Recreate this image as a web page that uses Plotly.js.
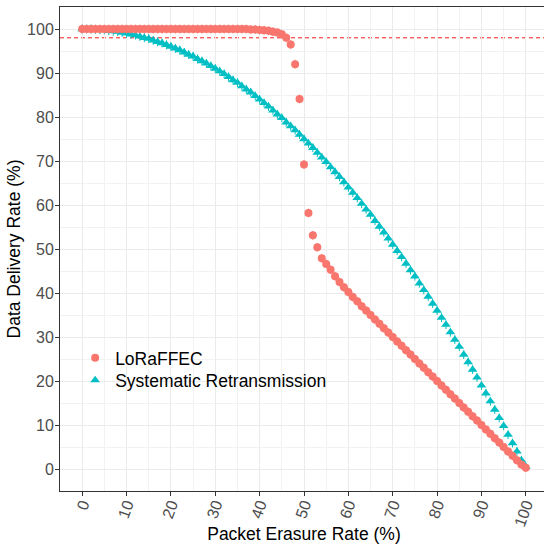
<!DOCTYPE html>
<html>
<head>
<meta charset="utf-8">
<script src="https://cdn.plot.ly/plotly-3.0.1.min.js"></script>
<style>
  html, body { margin: 0; padding: 0; overflow: hidden; background: #ffffff; }
  #chart { width: 548px; height: 544px; }
</style>
</head>
<body>
<div id="chart"></div>
<script>
// Packet erasure rate (%) on the x axis
const erasureRate = [
  0,1,2,3,4,5,6,7,8,9,10,11,12,13,14,15,16,17,18,19,20,
  21,22,23,24,25,26,27,28,29,30,31,32,33,34,35,36,37,38,39,40,
  41,42,43,44,45,46,47,48,49,50,51,52,53,54,55,56,57,58,59,60,
  61,62,63,64,65,66,67,68,69,70,71,72,73,74,75,76,77,78,79,80,
  81,82,83,84,85,86,87,88,89,90,91,92,93,94,95,96,97,98,99,100
];

// Data delivery rate (%) with LoRaFFEC
const deliveryLoraffec = [
  100,100,100,100,100,100,100,100,100,100,100,
  100,100,100,100,100,100,100,100,100,100,
  100,100,100,100,100,100,100,100,100,100,
  100,100,100,100,100,100,100,99.9,99.9,99.8,
  99.7,99.6,99.4,99.2,98.8,98.0,96.5,92.0,84.1,69.2,
  58.2,53.1,50.4,47.9,46.6,45.3,43.8,42.5,41.3,40.2,
  39.1,38.1,37.0,36.0,35.0,34.0,33.0,32.0,31.0,30.0,
  29.0,28.0,27.0,26.0,25.0,24.0,23.0,22.0,21.0,20.0,
  19.0,18.0,17.0,16.0,15.0,14.0,13.0,12.0,11.0,10.0,
  9.0,8.0,7.0,6.0,5.0,4.0,3.0,2.0,1.0,0.3
];

// Data delivery rate (%) with systematic retransmission
const deliverySystematic = [
  100.0,100.0,100.0,99.9,99.8,99.8,99.6,99.5,99.4,99.2,99.0,
  98.8,98.6,98.3,98.0,97.8,97.4,97.1,96.8,96.4,96.0,
  95.6,95.2,94.7,94.2,93.8,93.2,92.7,92.2,91.6,91.0,
  90.4,89.8,89.1,88.4,87.8,87.0,86.3,85.6,84.8,84.0,
  83.2,82.4,81.5,80.6,79.8,78.8,77.9,77.0,76.0,75.0,
  74.0,73.0,71.9,70.8,69.8,68.6,67.5,66.4,65.2,64.0,
  62.8,61.6,60.3,59.0,57.8,56.4,55.1,53.8,52.4,51.0,
  49.6,48.2,46.7,45.2,43.8,42.2,40.7,39.2,37.6,36.0,
  34.4,32.8,31.1,29.4,27.8,26.0,24.3,22.6,20.8,19.0,
  17.2,15.4,13.5,11.6,9.8,7.8,5.9,4.0,2.0,0.5
];

// Half-width of the spread drawn around each point (percentage points)
const spreadLoraffec = 1.0;
const spreadSystematic = 1.0;

// Target delivery level drawn as a dashed reference line
const targetLevel = 98;

const seriesNames = ['LoRaFFEC', 'Systematic Retransmission'];
const xTitle = 'Packet Erasure Rate (%)';
const yTitle = 'Data Delivery Rate (%)';

const FONT = 'Liberation Sans, Arial, Helvetica, sans-serif';
const RED = '#F8766D';
const TEAL = '#00BFC4';

const traces = [
  {
    type: 'scatter',
    mode: 'markers',
    name: seriesNames[1],
    legend: 'legend2',
    x: erasureRate,
    y: deliverySystematic,
    marker: { symbol: 'triangle-up', size: 8.5, color: TEAL, line: { width: 0 } },
    error_y: { type: 'constant', value: spreadSystematic, color: TEAL, thickness: 1, width: 0 }
  },
  {
    type: 'scatter',
    mode: 'markers',
    name: seriesNames[0],
    legend: 'legend',
    x: erasureRate,
    y: deliveryLoraffec,
    marker: { symbol: 'circle', size: 8, color: RED, line: { width: 0 } },
    error_y: { type: 'constant', value: spreadLoraffec, color: RED, thickness: 1, width: 0 }
  }
];

const axisCommon = {
  range: [-5, 105],
  dtick: 10,
  tick0: 0,
  showgrid: true,
  gridcolor: '#EBEBEB',
  gridwidth: 1,
  zeroline: false,
  showline: true,
  mirror: true,
  linecolor: '#333333',
  linewidth: 1,
  ticks: 'outside',
  ticklen: 4,
  tickwidth: 1,
  tickcolor: '#333333',
  tickfont: { family: FONT, size: 16, color: '#4D4D4D' },
  minor: { dtick: 5, showgrid: true, gridcolor: '#F2F2F2', gridwidth: 1, ticks: '' }
};

const legendCommon = {
  xanchor: 'left',
  yanchor: 'middle',
  bgcolor: 'rgba(255,255,255,0)',
  font: { family: FONT, size: 17.5, color: '#000000' }
};

const layout = {
  width: 548,
  height: 544,
  margin: { l: 60, r: 0, t: 6.7, b: 53.3 },
  paper_bgcolor: '#ffffff',
  plot_bgcolor: '#ffffff',
  font: { family: FONT, color: '#000000' },
  showlegend: true,
  legend: Object.assign({}, legendCommon, { x: 0.031, y: 0.275 }),
  legend2: Object.assign({}, legendCommon, { x: 0.031, y: 0.229 }),
  xaxis: Object.assign({}, axisCommon, {
    tickangle: -70,
    ticklabelstandoff: -7,
    title: { text: xTitle, font: { family: FONT, size: 17.5, color: '#000000' }, standoff: 11 }
  }),
  yaxis: Object.assign({}, axisCommon, {
    ticklabelstandoff: -2,
    title: { text: yTitle, font: { family: FONT, size: 17.5, color: '#000000' }, standoff: 1 }
  }),
  shapes: [
    {
      type: 'line',
      xref: 'paper', x0: 0, x1: 1,
      yref: 'y', y0: targetLevel, y1: targetLevel,
      line: { color: '#FF1A1A', width: 1, dash: '4px,3px' },
      layer: 'between'
    }
  ]
};

Plotly.newPlot('chart', traces, layout, { displayModeBar: false, staticPlot: true });
</script>
</body>
</html>
